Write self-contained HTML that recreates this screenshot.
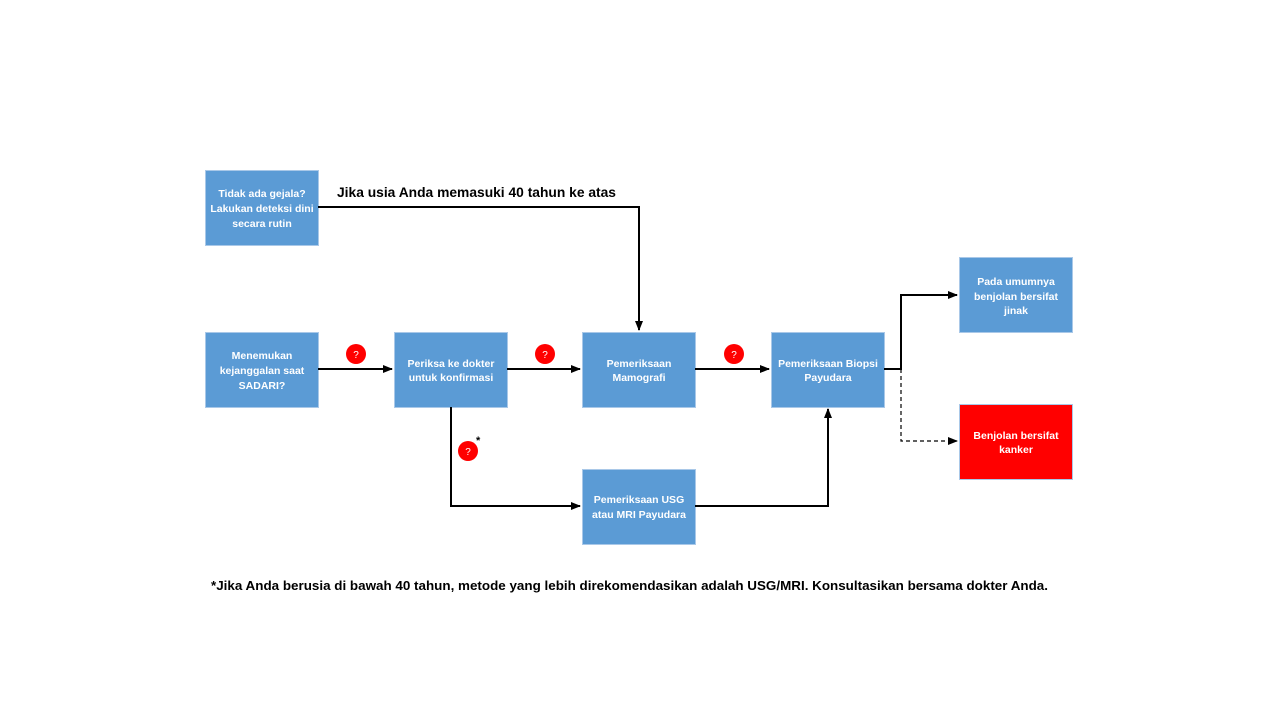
<!DOCTYPE html>
<html><head><meta charset="utf-8"><style>
html,body{margin:0;padding:0;background:#fff;width:1280px;height:720px;overflow:hidden}
svg{display:block}
text{font-family:"Liberation Sans",sans-serif}
.b{fill:#5b9bd5;stroke:#a9c8e8;stroke-width:1}
.t{fill:#fff;font-size:10.5px;font-weight:bold;text-anchor:middle}
.l{stroke:#000;stroke-width:2;fill:none}
.q{fill:#fff;font-size:10px;text-anchor:middle}
</style></head><body>
<svg width="1280" height="720" viewBox="0 0 1280 720">
<defs><marker id="a" markerWidth="10" markerHeight="10" refX="9" refY="5" orient="auto" markerUnits="userSpaceOnUse"><path d="M0,1 L10,5 L0,9 Z" fill="#000"/></marker></defs>
<rect class="b" x="205.5" y="170.5" width="113" height="75"/>
<text class="t" x="262" y="197">Tidak ada gejala?</text>
<text class="t" x="262" y="212">Lakukan deteksi dini</text>
<text class="t" x="262" y="227">secara rutin</text>
<rect class="b" x="205.5" y="332.5" width="113" height="75"/>
<text class="t" x="262" y="359">Menemukan</text>
<text class="t" x="262" y="374">kejanggalan saat</text>
<text class="t" x="262" y="389">SADARI?</text>
<rect class="b" x="394.5" y="332.5" width="113" height="75"/>
<text class="t" x="451" y="367">Periksa ke dokter</text>
<text class="t" x="451" y="381">untuk konfirmasi</text>
<rect class="b" x="582.5" y="332.5" width="113" height="75"/>
<text class="t" x="639" y="367">Pemeriksaan</text>
<text class="t" x="639" y="381">Mamografi</text>
<rect class="b" x="771.5" y="332.5" width="113" height="75"/>
<text class="t" x="828" y="367">Pemeriksaan Biopsi</text>
<text class="t" x="828" y="381">Payudara</text>
<rect class="b" x="582.5" y="469.5" width="113" height="75"/>
<text class="t" x="639" y="503">Pemeriksaan USG</text>
<text class="t" x="639" y="518">atau MRI Payudara</text>
<rect class="b" x="959.5" y="257.5" width="113" height="75"/>
<text class="t" x="1016" y="285">Pada umumnya</text>
<text class="t" x="1016" y="300">benjolan bersifat</text>
<text class="t" x="1016" y="314">jinak</text>
<rect x="959.5" y="404.5" width="113" height="75" fill="#ff0000" stroke="#a9c8e8"/>
<text class="t" x="1016" y="439">Benjolan bersifat</text>
<text class="t" x="1016" y="453">kanker</text>
<path class="l" d="M318,207 H639 V330" marker-end="url(#a)"/>
<path class="l" d="M318,369 H392" marker-end="url(#a)"/>
<path class="l" d="M507,369 H580" marker-end="url(#a)"/>
<path class="l" d="M695,369 H769" marker-end="url(#a)"/>
<path class="l" d="M451,407 V506 H580" marker-end="url(#a)"/>
<path class="l" d="M695,506 H828 V409" marker-end="url(#a)"/>
<path class="l" d="M884,369 H901 V295 H957" marker-end="url(#a)"/>
<path d="M901,369 V441 H957" fill="none" stroke="#000" stroke-width="1.2" stroke-dasharray="4,3" marker-end="url(#a)"/>
<circle cx="356" cy="354" r="10" fill="#f00"/><text class="q" x="356" y="358">?</text>
<circle cx="545" cy="354" r="10" fill="#f00"/><text class="q" x="545" y="358">?</text>
<circle cx="734" cy="354" r="10" fill="#f00"/><text class="q" x="734" y="358">?</text>
<circle cx="468" cy="451" r="10" fill="#f00"/><text class="q" x="468" y="455">?</text>
<text x="476" y="444" font-size="11" font-weight="bold">*</text>
<text x="337" y="197" font-size="14" font-weight="bold" textLength="279" lengthAdjust="spacingAndGlyphs">Jika usia Anda memasuki 40 tahun ke atas</text>
<text x="211" y="590" font-size="13" font-weight="bold" textLength="837" lengthAdjust="spacingAndGlyphs">*Jika Anda berusia di bawah 40 tahun, metode yang lebih direkomendasikan adalah USG/MRI. Konsultasikan bersama dokter Anda.</text>
</svg>
</body></html>
